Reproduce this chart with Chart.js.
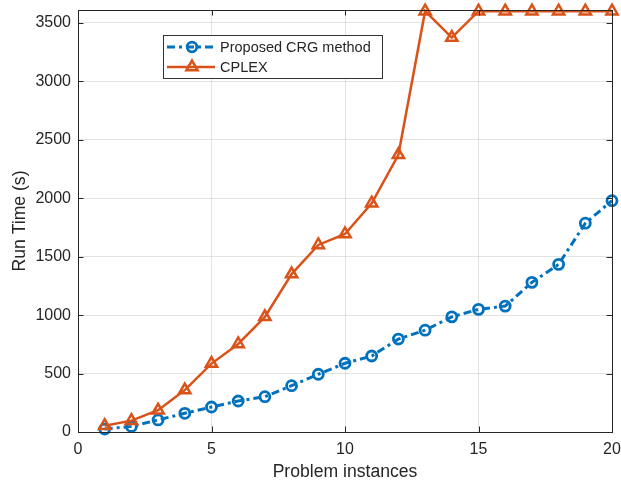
<!DOCTYPE html>
<html>
<head>
<meta charset="utf-8">
<script src="https://cdn.jsdelivr.net/npm/chart.js"></script>
<style>
  html, body { margin: 0; padding: 0; background: #fff; }
  #wrap { width: 621px; height: 484px; }
</style>
</head>
<body>
<div id="wrap"><canvas id="runChart" width="621" height="484"></canvas></div>
<script>
// date
var instances = [1, 2, 3, 4, 5, 6, 7, 8, 9, 10, 11, 12, 13, 14, 15, 16, 17, 18, 19, 20];
var crgTimes = [25, 48, 103, 160, 214, 265, 302, 396, 494, 588, 650, 795, 871, 985, 1049, 1077, 1280, 1434, 1786, 1979];
var cplexTimes = [54, 97, 186, 359, 585, 753, 985, 1351, 1600, 1694, 1957, 2371, 3600, 3374, 3600, 3600, 3600, 3600, 3600, 3600];
var xTicks = [0, 5, 10, 15, 20];
var yTicks = [0, 500, 1000, 1500, 2000, 2500, 3000, 3500];

var FONT = "'Liberation Sans', Arial, Helvetica, sans-serif";
var INK = '#262626';
var BLUE = '#0072BD';
var ORANGE = '#D95319';

function toPoints(xs, ys) {
    return xs.map(function(x, i) { return { x: x, y: ys[i] }; });
}

function noPad(s) {
    s.paddingTop = 0; s.paddingBottom = 0; s.paddingLeft = 0; s.paddingRight = 0;
}

// rama + liniute de tick spre interior (stil MATLAB)
var boxTicks = {
    id: 'boxTicks',
    afterDatasetsDraw: function(chart) {
        var ctx = chart.ctx, a = chart.chartArea;
        var sx = chart.scales.x, sy = chart.scales.y;
        var len = 5.5;
        ctx.save();
        ctx.strokeStyle = INK;
        ctx.lineWidth = 1;
        ctx.beginPath();
        sx.ticks.forEach(function(t) {
            var px = Math.round(sx.getPixelForValue(t.value)) + 0.5;
            ctx.moveTo(px, a.bottom); ctx.lineTo(px, a.bottom - len);
            ctx.moveTo(px, a.top); ctx.lineTo(px, a.top + len);
        });
        sy.ticks.forEach(function(t) {
            var py = Math.round(sy.getPixelForValue(t.value)) + 0.5;
            ctx.moveTo(a.left, py); ctx.lineTo(a.left + len, py);
            ctx.moveTo(a.right, py); ctx.lineTo(a.right - len, py);
        });
        ctx.stroke();
        ctx.strokeRect(Math.round(a.left) + 0.5, Math.round(a.top) + 0.5,
                       Math.round(a.right - a.left), Math.round(a.bottom - a.top));
        ctx.restore();
    }
};

function drawMarker(ctx, style, r, x, y) {
    ctx.beginPath();
    if (style === 'circle') {
        ctx.arc(x, y, r, 0, Math.PI * 2);
    } else {
        var rad = 0;
        ctx.moveTo(x + Math.sin(rad) * r, y - Math.cos(rad) * r);
        rad += 2 * Math.PI / 3;
        ctx.lineTo(x + Math.sin(rad) * r, y - Math.cos(rad) * r);
        rad += 2 * Math.PI / 3;
        ctx.lineTo(x + Math.sin(rad) * r, y - Math.cos(rad) * r);
        ctx.closePath();
    }
    ctx.stroke();
}

// legenda in interiorul graficului
var insetLegend = {
    id: 'insetLegend',
    afterDraw: function(chart) {
        var ctx = chart.ctx, a = chart.chartArea;
        var bx = a.left + 85, by = a.top + 25, bw = 219, bh = 43;
        ctx.save();
        ctx.fillStyle = '#fff';
        ctx.fillRect(bx, by, bw, bh);
        ctx.strokeStyle = '#333';
        ctx.lineWidth = 1;
        ctx.strokeRect(Math.round(bx) + 0.5, Math.round(by) + 0.5, bw, bh);
        var rows = [by + 12, by + 32];
        chart.data.datasets.forEach(function(ds, i) {
            var y = rows[ds.legendRow];
            ctx.strokeStyle = ds.borderColor;
            ctx.lineWidth = ds.borderWidth;
            ctx.setLineDash(ds.borderDash || []);
            ctx.beginPath();
            ctx.moveTo(bx + 4, y);
            ctx.lineTo(bx + 52, y);
            ctx.stroke();
            ctx.setLineDash([]);
            ctx.lineWidth = ds.pointBorderWidth;
            drawMarker(ctx, ds.pointStyle, ds.legendRadius, bx + 29, y);
            ctx.fillStyle = INK;
            ctx.font = '14.5px ' + FONT;
            ctx.textBaseline = 'middle';
            ctx.textAlign = 'left';
            ctx.fillText(ds.label, bx + 57, y + 1);
        });
        ctx.restore();
    }
};

var ctx = document.getElementById('runChart').getContext('2d');
var runChart = new Chart(ctx, {
    type: 'line',
    data: {
        datasets: [
            {
                label: 'Proposed CRG method',
                data: toPoints(instances, crgTimes),
                borderColor: BLUE,
                borderWidth: 3,
                borderDash: [8, 4, 3, 4],
                pointStyle: 'circle',
                pointRadius: 5,
                pointBorderWidth: 2.8,
                pointBorderColor: BLUE,
                pointBackgroundColor: 'rgba(0,0,0,0)',
                legendRow: 0,
                legendRadius: 4.8,
                order: 1,
                clip: false
            },
            {
                label: 'CPLEX',
                data: toPoints(instances, cplexTimes),
                borderColor: ORANGE,
                borderWidth: 2.5,
                pointStyle: 'triangle',
                pointRadius: 6.5,
                pointBorderWidth: 2.5,
                pointBorderColor: ORANGE,
                pointBackgroundColor: 'rgba(0,0,0,0)',
                legendRow: 1,
                legendRadius: 6.5,
                order: 0,
                clip: false
            }
        ]
    },
    options: {
        responsive: false,
        animation: false,
        layout: { padding: { top: 10, right: 9, left: 0, bottom: 0 } },
        plugins: {
            legend: { display: false },
            tooltip: { enabled: false }
        },
        scales: {
            x: {
                type: 'linear',
                min: xTicks[0],
                max: xTicks[xTicks.length - 1],
                afterBuildTicks: function(s) { s.ticks = xTicks.map(function(v) { return { value: v }; }); },
                afterFit: function(s) { s.height = 52; noPad(s); },
                ticks: { color: INK, font: { family: FONT, size: 16 }, padding: 8, maxRotation: 0,
                         callback: function(v) { return String(v); } },
                grid: { color: 'rgba(38,38,38,0.13)', drawTicks: false },
                border: { display: false },
                title: { display: true, text: 'Problem instances', color: INK,
                         font: { family: FONT, size: 17.6 }, padding: { top: 0, bottom: 1 } }
            },
            y: {
                min: 0,
                max: 3610,
                afterBuildTicks: function(s) { s.ticks = yTicks.map(function(v) { return { value: v }; }); },
                afterFit: function(s) { s.width = 78; noPad(s); },
                ticks: { color: INK, font: { family: FONT, size: 16 }, padding: 7,
                         callback: function(v) { return String(v); } },
                grid: { color: 'rgba(38,38,38,0.13)', drawTicks: false },
                border: { display: false },
                title: { display: true, text: 'Run Time (s)', color: INK,
                         font: { family: FONT, size: 17.6 }, padding: { top: 9.5, bottom: 0 } }
            }
        }
    },
    plugins: [boxTicks, insetLegend]
});
</script>
</body>
</html>
